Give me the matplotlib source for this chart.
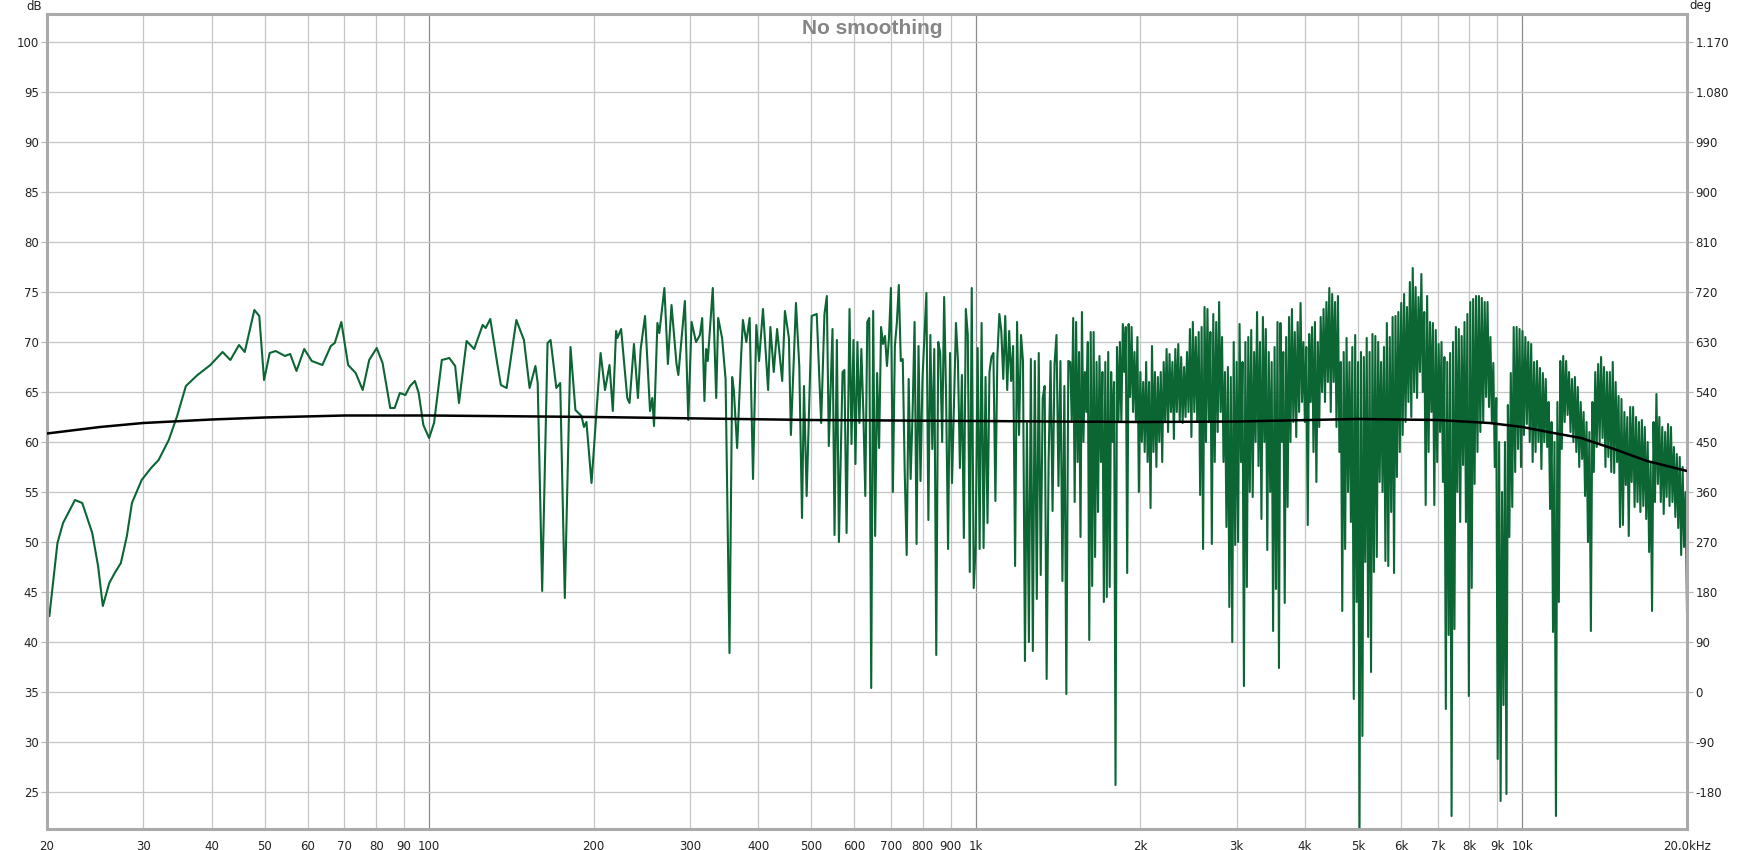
import numpy as np
import matplotlib.pyplot as plt
from matplotlib.ticker import FuncFormatter, NullLocator

# ---- data (frequency in Hz, level in dB) ----
low_freq = [20.2, 20.9, 21.4, 22.5, 23.2, 24.2, 24.8, 25.3, 26.0, 26.6, 27.3, 28.0, 28.6, 29.8,
            31.0, 32.0, 33.4, 34.6, 35.9, 37.7, 39.8, 41.9, 43.3, 44.9, 46.0, 47.9, 48.9, 49.9,
            51.1, 52.4, 54.5, 55.7, 57.2, 59.1, 61.0, 63.8, 66.1, 67.2, 69.1, 71.1, 73.4, 75.6,
            77.7, 80.2, 82.2, 84.9, 86.5, 88.4, 90.5, 92.3, 94.2, 95.7, 97.6, 100, 102.1, 105.5,
            108.9, 111.6, 113.4, 117.1, 120.9, 125.3, 126.9, 129.4, 133.2, 135.3, 138.6, 144.4,
            149.1, 152.7, 156.5, 158.0, 161.0, 164.7, 166.8, 170.9, 173.7, 177.1, 181.4, 185.2,
            190.0, 192.0, 194.0, 198.2]
low_db = [42.6, 49.9, 51.9, 54.2, 53.9, 50.9, 47.6, 43.6, 45.9, 46.9, 47.9, 50.6, 53.9, 56.2,
          57.4, 58.2, 60.2, 62.6, 65.6, 66.7, 67.7, 69.0, 68.2, 69.7, 69.0, 73.2, 72.6, 66.2,
          68.9, 69.1, 68.6, 68.8, 67.1, 69.3, 68.1, 67.7, 69.6, 69.9, 72.0, 67.7, 66.9, 65.2,
          68.2, 69.4, 67.9, 63.4, 63.4, 64.9, 64.7, 65.6, 66.1, 64.9, 61.7, 60.4, 61.9, 68.2,
          68.4, 67.6, 63.9, 70.1, 69.3, 71.7, 71.4, 72.3, 67.9, 65.7, 65.4, 72.2,
          70.2, 65.4, 67.6, 65.9, 45.1, 69.9, 70.2, 65.4, 65.9, 44.4, 69.5, 63.2,
          62.6, 61.5, 62.0, 55.9]

mid_freq = [205.9, 209.8, 213.8, 216.8, 219.8, 221.0, 224.5, 230.4, 232.6, 237.0, 241.0, 243.8,
            248.3, 253.6, 256.0, 257.9, 261.6, 263.7, 269.4, 273.4, 277.6, 283.5, 285.7, 293.7,
            297.9, 302.1, 307.8, 312.9, 315.9, 318.9, 321.2, 323.4, 330.3, 335.1, 337.9, 343.5,
            348.6, 354.4, 358.4, 360.9, 366.0, 372.4, 375.0, 380.4, 385.8, 391.3, 396.8, 401.4,
            408.1, 417.0, 421.0, 427.0, 433.1, 442.5, 447.6, 455.2, 459.0, 468.9, 475.5, 481.0,
            485.0, 490.5, 501.0, 511.8, 521.4, 528.7, 534.0, 538.5, 546.9, 551.6, 557.1, 561.9,
            570.6, 575.0, 580.3]
mid_db = [68.9, 65.2, 67.7, 63.1, 71.1, 70.4, 71.3, 64.4, 63.9, 69.8, 64.4, 69.3,
          72.6, 63.1, 64.4, 61.6, 71.9, 70.9, 75.4, 67.8, 73.7, 67.8, 66.7, 74.1,
          62.2, 72.0, 70.0, 70.7, 72.4, 64.1, 69.3, 68.1, 75.4, 64.4, 72.4, 70.4,
          66.3, 38.9, 66.5, 65.2, 59.4, 68.9, 72.2, 70.0, 72.4, 56.3, 71.7, 68.1,
          73.3, 65.2, 71.5, 67.0, 71.3, 66.1, 73.1, 70.4, 60.7, 73.9, 67.6, 52.4,
          65.6, 54.6, 72.6, 72.8, 61.9, 72.8, 74.6, 59.6, 71.3, 50.7, 70.2, 50.0,
          67.0, 67.2, 50.9]

# dense part: values read left to right across each band
band_edges = [587.6, 1489, 3608, 8738, 20000]

band1_db = [73.3, 59.8, 70.2, 57.8, 70.0, 61.9, 69.3, 63.0, 54.6, 72.0, 72.4, 35.4, 73.1, 50.6,
            66.9, 59.4, 71.5, 69.8, 70.6, 67.6, 70.4, 75.4, 55.0, 69.6, 71.9, 75.7, 68.1, 68.3,
            57.0, 48.7, 66.3, 56.3, 63.0, 72.0, 49.8, 69.6, 56.1, 66.3, 70.7, 74.9, 52.2, 70.7,
            59.3, 69.3, 38.7, 70.0, 68.9, 60.0, 74.5, 64.4, 49.3, 68.9, 55.9, 63.7, 71.9, 68.1,
            57.4, 66.7, 50.4, 73.3, 70.7, 47.0, 75.4, 45.4, 49.6, 69.4, 49.3, 71.9, 49.4, 66.5,
            51.9, 67.0, 68.5, 68.9, 54.1, 68.5, 72.8, 71.1, 66.3, 72.6, 65.2, 71.1, 66.1, 69.6,
            47.6, 72.0, 60.7, 70.7, 68.1, 38.1, 61.9, 40.0, 68.3, 39.1, 68.1, 44.3, 68.9, 46.7,
            64.4, 65.6, 36.3, 58.1, 68.1, 53.1, 67.8, 70.7, 55.6, 68.1, 46.1, 65.6, 34.8, 68.1]

band2_db = [68, 62, 72.4, 54, 72, 58, 69, 50.5, 73, 60, 67, 63, 70, 40.2, 71, 45.6, 71, 48.5,
            68, 53, 68.6, 58, 67, 44, 68, 44.5, 69, 45.5, 67, 60, 66, 25.7, 69.5, 62, 70, 62,
            71.8, 67, 71.5, 46.9, 71.8, 64.5, 71.5, 63, 69, 62, 70.5, 55, 67, 60, 66, 59, 68, 58,
            66, 53.4, 69.6, 59, 67, 57.5, 66.5, 60, 67, 58, 68, 62, 69.3, 61, 68.8, 63, 68, 60.3,
            69.3, 63, 69.8, 62, 68.5, 61.9, 67.5, 62.5, 69, 63, 71.3, 60.5, 72, 63, 70.5, 62,
            71, 54.7, 71.5, 49.3, 73.5, 60, 73.3, 62, 71, 49.8, 72.8, 58, 72, 61, 74, 63,
            70.5, 58, 67, 51.5, 67.5, 43.5, 66.5, 40.0, 70, 49.7, 68, 50, 71.8, 58, 68, 35.6,
            70, 45.5, 70.5, 55, 71.2, 54.5, 69, 60, 73, 57.6, 70, 52.3, 72.5, 60, 71.3, 49.2,
            69, 55, 68, 41.1, 69.5, 45.3, 72, 37.4]

band3_db = [71.9, 60, 69, 43.9, 70.5, 53.5, 72.5, 60, 73.3, 62, 71, 60.5, 72, 63, 73.9, 64,
            70, 62, 69.5, 51.7, 70.8, 64, 71.5, 59, 72, 56, 70, 61.5, 72.5, 65, 73.3, 64,
            74, 66, 75.4, 63, 74.8, 66, 74, 61.5, 74.6, 59, 68, 43.1, 69, 49.3, 70.4, 55,
            68, 52, 69.5, 34.3, 70.7, 44, 68, 21.0, 69, 30.6, 68.5, 48, 70.4, 40.5, 69, 37.0,
            70.8, 47, 70.6, 48.5, 70, 56, 68, 55, 69.5, 48.1, 71.9, 47.6, 70.5, 53, 72.5, 46.9,
            72.6, 56.5, 73, 59, 73.9, 60.7, 74.8, 62, 73.5, 64, 76, 62.5, 77.4, 65, 75.5, 64.4,
            74.5, 67, 76.8, 65, 73, 53.7, 74.6, 59, 72, 63, 71.9, 53.7, 71.2, 58, 69.8, 61,
            70, 56, 68.5, 33.3, 68, 40.7, 68.9, 22.6, 70, 41.3, 71.5, 55, 71.3, 52, 70.6, 57.7,
            72, 52, 72.8, 34.6, 74, 45.4, 74.3, 55.8, 74.6, 59, 74.6, 61, 74.4, 62, 74, 64.5,
            74, 63.5]

band4_db = [70.5, 62, 67.9, 57.5, 64.4, 28.3, 60, 24.1, 55, 33.7, 60, 24.8, 63.7, 50.5,
            66.9, 53.5, 71.5, 57, 71.5, 59.3, 71.3, 57.5, 71.1, 60.7, 70.5, 61.8, 70, 60,
            69.8, 58.0, 68, 59, 68.1, 60, 67.4, 57.3, 66.9, 60, 66.3, 59.5, 64, 53.3, 62, 41,
            60, 22.6, 64, 44, 68.1, 59.3, 68.6, 62, 68.1, 62.7, 67, 61, 66.3, 60, 66.5, 59,
            65.5, 57.5, 64, 58.3, 63, 54.6, 62, 50, 61, 41.1, 64, 57, 67, 59.5, 67.8, 60,
            68.5, 60.4, 67.5, 57.5, 67, 58.5, 67, 57, 68, 56.9, 66, 58, 64.6, 51.5, 64.3, 51.7,
            63, 55.7, 62.5, 50.6, 63.5, 56, 63.5, 53.5, 62.5, 54, 62, 53, 62.2, 53.6, 61.5, 52.3,
            60, 49, 58, 43.1, 62, 54, 64.8, 55.8, 62.5, 54, 61.5, 52.8, 61, 54.5, 61.8, 53.6,
            61.5, 54, 59.5, 52.5, 58.8, 51.4, 58.5, 48.7, 57.5, 49.5, 55, 43]

# black reference curve
ref_freq = [20, 25, 30, 40, 50, 70, 100, 200, 500, 1000, 2000, 3000, 5000, 7000, 8700,
            10000, 11400, 12800, 14700, 16900, 20000]
ref_db = [60.85, 61.5, 61.9, 62.25, 62.45, 62.65, 62.65, 62.5, 62.2, 62.1, 62.0, 62.05, 62.3,
          62.2, 61.9, 61.5, 60.9, 60.4, 59.3, 58.1, 57.1]

xtick_vals = [20, 30, 40, 50, 60, 70, 80, 90, 100, 200, 300, 400, 500, 600, 700, 800, 900,
              1000, 2000, 3000, 4000, 5000, 6000, 7000, 8000, 9000, 10000, 20000]
xtick_labels = ['20', '30', '40', '50', '60', '70', '80', '90', '100', '200', '300', '400',
                '500', '600', '700', '800', '900', '1k', '2k', '3k', '4k', '5k', '6k', '7k',
                '8k', '9k', '10k', '20,0kHz']
ytick_vals = list(range(25, 101, 5))


def main():
    bands = [band1_db, band2_db, band3_db, band4_db]
    freq_parts = [np.array(low_freq), np.array(mid_freq)]
    db_parts = [np.array(low_db), np.array(mid_db)]
    for i, b in enumerate(bands):
        last = i == len(bands) - 1
        freq_parts.append(np.geomspace(band_edges[i], band_edges[i + 1], len(b), endpoint=last))
        db_parts.append(np.array(b, dtype=float))
    spl_freq = np.concatenate(freq_parts)
    spl_db = np.concatenate(db_parts)

    plt.rcParams['font.family'] = ['DejaVu Sans']
    fig = plt.figure(figsize=(17.45, 8.5), dpi=100)
    ax = fig.add_axes([47 / 1745, 21 / 850, 1640 / 1745, 815 / 850])
    ax.set_xscale('log')
    ax.set_xlim(20, 20000)
    ax.set_ylim(21.3, 102.8)

    # grid
    for f in xtick_vals:
        dark = f in (100, 1000, 10000)
        ax.axvline(f, color='#8c8c8c' if dark else '#c6c6c6', lw=0.9, zorder=0)
    for y in ytick_vals:
        ax.axhline(y, color='#c6c6c6', lw=0.9, zorder=0)

    ax.plot(spl_freq, spl_db, color='#0b6634', lw=1.5, zorder=2)
    ax.plot(ref_freq, ref_db, color='black', lw=1.8, zorder=3)

    ax.set_xticks(xtick_vals, xtick_labels)
    ax.xaxis.set_minor_locator(NullLocator())
    ax.tick_params(axis='x', length=0, pad=8, labelsize=8.5, labelcolor='#222222')
    ax.set_yticks(ytick_vals)
    ax.tick_params(axis='y', length=4, width=0.9, color='#b8b8b8', pad=2,
                   labelsize=8.5, labelcolor='#222222')

    sec = ax.secondary_yaxis('right', functions=(lambda d: (d - 35) * 18,
                                                 lambda g: g / 18 + 35))
    sec.set_yticks(list(range(-180, 1171, 90)))
    sec.yaxis.set_major_formatter(FuncFormatter(lambda v, p: f"{int(round(v)):,}".replace(',', '.')))
    sec.tick_params(axis='y', length=4, width=0.9, color='#b8b8b8', pad=2,
                    labelsize=8.5, labelcolor='#222222')
    sec.spines['right'].set_visible(False)

    for s in ax.spines.values():
        s.set_color('#aaaaaa')
        s.set_linewidth(2.2)

    ax.text(0.5034, 0.9755, 'No smoothing', transform=ax.transAxes, ha='center',
            va='baseline', fontsize=15, fontweight='bold', color='#858585',
            family='Liberation Sans', zorder=4)
    fig.text(42 / 1745, 1 - 6 / 850, 'dB', ha='right', va='center', fontsize=8.5,
             color='#222222')
    fig.text(1689 / 1745, 1 - 6 / 850, 'deg', ha='left', va='center', fontsize=8.5,
             color='#222222')

    fig.savefig('out.png', dpi=100)


if __name__ == '__main__':
    main()
